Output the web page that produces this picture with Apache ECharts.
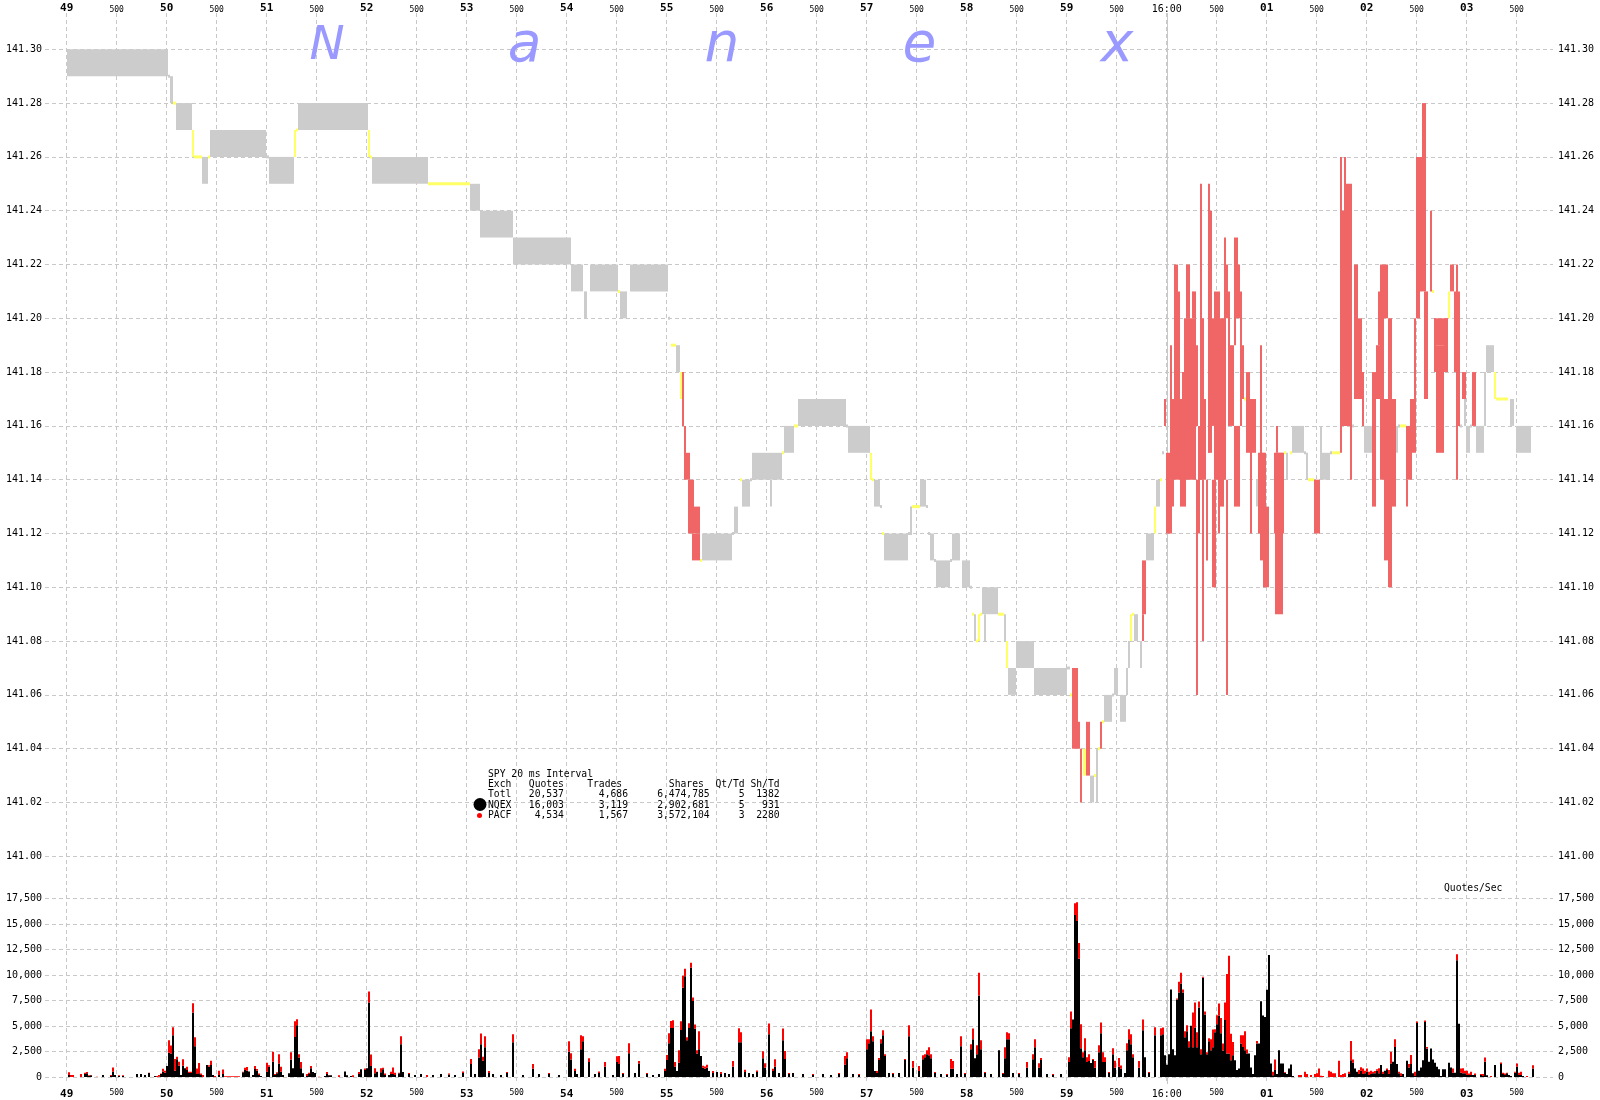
<!DOCTYPE html>
<html><head><meta charset="utf-8">
<script src="https://cdn.jsdelivr.net/npm/echarts@6/dist/echarts.min.js"></script>
<style>html,body{margin:0;padding:0;background:#fff}#c{width:1600px;height:1100px}</style>
</head><body><div id="c"></div>
<script>
// time in seconds after 15:59:00 (60 = 16:00:00)
const tickLabels = ['49','500','50','500','51','500','52','500','53','500','54','500','55','500','56','500','57','500','58','500','59','500','16:00','500','01','500','02','500','03','500'];
const closeTime = 60;

// quote segments: [tStart, tEnd, low, high]
const grayQuotes = [
[49.00,50.01,141.29,141.30],[50.01,50.03,141.29,141.29],[50.03,50.06,141.28,141.29],[50.09,50.25,141.27,141.28],
[50.35,50.41,141.25,141.26],[50.43,50.99,141.26,141.27],[50.99,51.02,141.26,141.26],[51.02,51.27,141.25,141.26],
[51.31,52.01,141.27,141.28],[52.05,52.61,141.25,141.26],[53.03,53.13,141.24,141.25],[53.13,53.46,141.23,141.24],
[53.46,54.04,141.22,141.23],[54.04,54.16,141.21,141.22],[54.17,54.20,141.20,141.21],[54.23,54.51,141.21,141.22],
[54.53,54.60,141.20,141.21],[54.63,55.01,141.21,141.22],[55.01,55.03,141.20,141.20],[55.09,55.13,141.18,141.19],
[55.35,55.65,141.11,141.12],[55.65,55.67,141.12,141.12],[55.67,55.71,141.12,141.13],[55.75,55.83,141.13,141.14],
[55.83,55.85,141.14,141.14],[55.85,56.15,141.14,141.15],[56.03,56.05,141.13,141.14],[56.17,56.27,141.15,141.16],
[56.31,56.79,141.16,141.17],[56.79,56.81,141.16,141.16],[56.81,57.03,141.15,141.16],[57.07,57.13,141.13,141.14],
[57.13,57.15,141.13,141.13],[57.17,57.41,141.11,141.12],[57.41,57.45,141.12,141.12],[57.43,57.45,141.12,141.13],
[57.53,57.59,141.13,141.14],[57.59,57.61,141.13,141.13],[57.61,57.63,141.12,141.12],[57.63,57.67,141.11,141.12],
[57.67,57.69,141.11,141.11],[57.69,57.83,141.10,141.11],[57.83,57.85,141.11,141.11],[57.85,57.93,141.11,141.12],
[57.95,58.03,141.10,141.11],[58.03,58.05,141.10,141.10],[58.07,58.09,141.08,141.09],[58.15,58.31,141.09,141.10],
[58.17,58.19,141.08,141.09],[58.37,58.39,141.08,141.09],[58.41,58.49,141.06,141.07],[58.49,58.67,141.07,141.08],
[58.67,59.00,141.06,141.07],[59.00,59.03,141.07,141.07],[59.23,59.27,141.02,141.03],[59.29,59.31,141.02,141.04],
[59.37,59.45,141.05,141.06],[59.45,59.47,141.06,141.06],[59.47,59.51,141.06,141.07],[59.53,59.59,141.05,141.06],
[59.59,59.61,141.06,141.07],[59.61,59.63,141.07,141.08],[59.67,59.71,141.08,141.09],[59.73,59.75,141.07,141.08],
[59.79,59.87,141.11,141.12],[59.89,59.93,141.13,141.14],[59.95,59.97,141.15,141.15],[60.89,60.91,141.13,141.14],
[61.19,61.21,141.14,141.15],[61.25,61.37,141.15,141.16],[61.37,61.39,141.15,141.15],[61.39,61.41,141.14,141.15],
[61.53,61.55,141.14,141.16],[61.53,61.63,141.14,141.15],[61.63,61.65,141.15,141.15],[61.85,61.87,141.16,141.16],
[61.97,62.05,141.15,141.16],[62.29,62.31,141.15,141.16],[62.31,62.33,141.16,141.16],[62.93,62.95,141.16,141.16],
[62.97,62.99,141.16,141.17],[62.99,63.03,141.15,141.16],[63.03,63.05,141.16,141.16],[63.09,63.17,141.15,141.16],
[63.17,63.19,141.16,141.18],[63.19,63.27,141.18,141.19],[63.43,63.47,141.16,141.17],[63.49,63.64,141.15,141.16]
];
const yellowQuotes = [
[50.06,50.09,141.28,141.28],[50.25,50.27,141.26,141.27],[50.27,50.35,141.26,141.26],[50.41,50.43,141.26,141.26],
[51.27,51.29,141.26,141.27],[51.29,51.31,141.27,141.27],[52.01,52.03,141.26,141.27],[52.03,52.05,141.26,141.26],
[52.61,53.03,141.25,141.25],[54.51,54.53,141.21,141.21],[55.04,55.09,141.19,141.19],[55.13,55.15,141.17,141.18],
[55.33,55.35,141.11,141.11],[55.73,55.75,141.14,141.14],[56.15,56.17,141.15,141.15],[56.27,56.31,141.16,141.16],
[57.03,57.05,141.14,141.15],[57.05,57.07,141.14,141.14],[57.15,57.17,141.12,141.12],[57.45,57.53,141.13,141.13],
[58.05,58.07,141.09,141.09],[58.09,58.11,141.08,141.08],[58.11,58.13,141.08,141.09],[58.13,58.15,141.09,141.09],
[58.31,58.37,141.09,141.09],[58.39,58.41,141.07,141.08],[59.03,59.05,141.06,141.06],[59.16,59.19,141.03,141.04],
[59.27,59.29,141.03,141.03],[59.31,59.33,141.04,141.04],[59.35,59.37,141.05,141.05],[59.63,59.65,141.08,141.09],
[59.65,59.67,141.09,141.09],[59.87,59.89,141.12,141.13],[59.93,59.95,141.14,141.14],[60.77,60.79,141.17,141.17],
[61.17,61.19,141.15,141.15],[61.23,61.25,141.15,141.15],[61.41,61.47,141.14,141.14],[61.65,61.73,141.15,141.15],
[62.33,62.39,141.16,141.16],[62.65,62.67,141.21,141.21],[62.81,62.83,141.20,141.21],[63.27,63.29,141.17,141.18],
[63.29,63.41,141.17,141.17]
];
const redQuotes = [
[55.15,55.17,141.16,141.18],[55.17,55.19,141.14,141.16],[55.19,55.23,141.14,141.15],[55.21,55.27,141.12,141.14],
[55.27,55.33,141.12,141.13],[55.25,55.33,141.11,141.12],[59.05,59.11,141.04,141.07],[59.11,59.13,141.04,141.05],
[59.13,59.15,141.02,141.04],[59.19,59.23,141.03,141.05],[59.33,59.35,141.04,141.05],[59.75,59.79,141.09,141.11],
[59.75,59.77,141.08,141.09],[59.97,59.99,141.16,141.17],[59.99,60.03,141.12,141.15],[60.01,60.05,141.12,141.14],
[60.03,60.05,141.14,141.19],[60.03,60.11,141.14,141.17],[60.07,60.11,141.17,141.22],[60.05,60.07,141.13,141.15],
[60.11,60.13,141.14,141.21],[60.13,60.19,141.13,141.17],[60.15,60.17,141.17,141.18],[60.17,60.23,141.14,141.20],
[60.19,60.23,141.20,141.22],[60.23,60.29,141.14,141.20],[60.25,60.29,141.20,141.21],[60.29,60.31,141.16,141.19],
[60.29,60.30,141.06,141.14],[60.31,60.33,141.12,141.16],[60.33,60.35,141.14,141.25],[60.33,60.37,141.14,141.20],
[60.35,60.36,141.08,141.14],[60.37,60.39,141.14,141.17],[60.39,60.40,141.11,141.14],[60.41,60.43,141.15,141.25],
[60.41,60.45,141.15,141.24],[60.45,60.48,141.16,141.20],[60.45,60.49,141.10,141.14],[60.47,60.53,141.14,141.21],
[60.51,60.53,141.12,141.16],[60.53,60.57,141.13,141.20],[60.57,60.59,141.14,141.23],[60.59,60.61,141.20,141.22],
[60.59,60.60,141.06,141.14],[60.61,60.63,141.16,141.21],[60.63,60.67,141.16,141.19],[60.67,60.69,141.19,141.23],
[60.69,60.71,141.20,141.23],[60.71,60.73,141.20,141.22],[60.67,60.73,141.13,141.16],[60.73,60.75,141.16,141.21],
[60.75,60.77,141.17,141.19],[60.79,60.83,141.15,141.18],[60.83,60.85,141.12,141.17],[60.85,60.89,141.15,141.17],
[60.91,60.93,141.12,141.15],[60.93,60.95,141.12,141.19],[60.93,60.98,141.11,141.15],[60.95,60.99,141.12,141.15],
[60.96,61.02,141.10,141.13],[61.07,61.17,141.12,141.15],[61.08,61.16,141.09,141.15],[61.09,61.11,141.15,141.16],
[61.47,61.53,141.12,141.14],[61.73,61.75,141.15,141.26],[61.75,61.77,141.16,141.24],[61.77,61.79,141.16,141.26],
[61.79,61.85,141.16,141.25],[61.83,61.85,141.14,141.16],[61.87,61.91,141.17,141.22],[61.91,61.95,141.17,141.20],
[61.95,61.97,141.16,141.18],[62.05,62.09,141.13,141.18],[62.09,62.13,141.17,141.19],[62.11,62.13,141.19,141.21],
[62.13,62.17,141.14,141.22],[62.17,62.21,141.20,141.22],[62.17,62.21,141.11,141.17],[62.21,62.25,141.10,141.20],
[62.25,62.29,141.13,141.17],[62.39,62.45,141.14,141.16],[62.39,62.41,141.13,141.14],[62.43,62.47,141.15,141.17],
[62.47,62.49,141.15,141.20],[62.49,62.53,141.20,141.24],[62.49,62.55,141.21,141.26],[62.55,62.59,141.21,141.28],
[62.57,62.61,141.17,141.21],[62.63,62.65,141.21,141.24],[62.67,62.81,141.19,141.20],[62.67,62.69,141.18,141.20],
[62.69,62.77,141.15,141.19],[62.77,62.81,141.18,141.20],[62.83,62.87,141.21,141.22],[62.87,62.89,141.18,141.21],
[62.89,62.91,141.14,141.22],[62.91,62.93,141.16,141.21],[62.95,62.99,141.17,141.18],[63.05,63.09,141.16,141.18]
];

// 20 ms bins: [tStart, NQEX quotes/sec, PACF quotes/sec]
const volumeBins = [
[49.01,195,260],[49.03,0,195],[49.05,0,195],[49.13,0,290],[49.17,290,130],[49.19,360,130],[49.21,100,65],[49.23,160,30],[49.29,0,30],[49.35,195,0],[49.43,100,100],[49.45,520,420],[49.47,195,0],[49.51,100,65],[49.55,100,65],[49.69,290,0],[49.73,290,0],[49.77,195,0],[49.81,390,30],[49.87,100,0],[49.89,0,100],[49.91,30,160],[49.93,290,65],[49.95,550,260],[49.97,420,195],[49.99,1070,0],
[50.01,2370,1240],[50.03,2300,800],[50.05,4100,780],[50.07,620,1140],[50.09,1750,230],[50.11,1100,390],[50.13,195,0],[50.15,1100,650],[50.17,850,0],[50.19,680,325],[50.21,400,120],[50.23,400,120],[50.25,6340,910],[50.27,3020,880],[50.29,290,550],[50.31,360,1010],[50.33,195,160],[50.35,0,195],[50.39,1170,0],[50.41,1000,160],[50.43,1170,420],[50.45,195,0],[50.47,0,100],[50.51,195,420],[50.55,290,450],[50.57,0,65],[50.59,0,65],[50.61,0,65],[50.63,0,65],[50.65,0,65],[50.67,0,65],[50.69,0,65],[50.71,0,65],[50.75,460,65],[50.77,680,230],[50.79,620,360],[50.81,550,0],[50.85,195,0],[50.87,780,290],[50.89,620,160],[50.91,195,160],[50.93,100,0],[50.99,520,880],
[51.01,1000,160],[51.05,1500,975],[51.07,195,100],[51.09,360,100],[51.11,1330,900],[51.13,520,490],[51.15,195,0],[51.21,360,0],[51.23,1720,720],[51.25,850,0],[51.27,3930,1530],[51.29,5070,590],[51.31,1920,325],[51.33,850,620],[51.35,360,0],[51.39,100,195],[51.41,290,130],[51.43,850,230],[51.45,490,0],[51.47,390,0],[51.51,0,30],[51.57,100,0],[51.59,290,195],[51.61,160,30],[51.63,160,0],[51.71,0,160],[51.77,550,0],[51.79,160,0],[51.83,100,0],[51.85,0,160],[51.91,290,195],[51.93,750,0],[51.97,680,160],[51.99,850,0],
[52.01,7310,1070],[52.03,1070,1140],[52.07,360,490],[52.09,490,30],[52.13,460,390],[52.15,750,160],[52.17,195,160],[52.21,195,0],[52.23,290,230],[52.25,290,650],[52.27,195,230],[52.31,360,65],[52.33,3220,780],[52.35,500,0],[52.41,300,100],[52.47,200,0],[52.53,300,0],[52.59,0,200],[52.65,200,0],[52.73,300,0],[52.81,250,100],[52.87,200,0],[52.95,400,150],
[53.03,1270,490],[53.07,300,0],[53.11,1920,810],[53.13,3220,1040],[53.15,1590,390],[53.17,2920,1070],[53.21,400,200],[53.25,300,0],[53.33,200,0],[53.39,400,100],[53.45,3410,780],[53.55,200,0],[53.65,800,470],[53.71,300,0],[53.81,300,100],[53.91,200,0],
[54.01,2470,1040],[54.03,1720,620],[54.07,600,200],[54.09,300,0],[54.13,2730,1370],[54.15,3510,490],[54.21,1460,390],[54.27,300,0],[54.31,400,150],[54.37,1000,460],[54.45,200,0],[54.49,1460,585],[54.51,1270,780],[54.55,300,100],[54.61,2340,975],[54.67,400,0],[54.71,1330,230],[54.79,300,100],[54.85,200,0],[54.91,300,0],[54.97,600,200],[54.99,1660,490],
[55.01,3310,980],[55.03,4810,680],[55.05,4810,750],[55.07,1000,460],[55.09,600,0],[55.11,1400,1230],[55.13,4610,850],[55.15,8770,1170],[55.17,9880,750],[55.19,3600,290],[55.21,4810,455],[55.23,10720,490],[55.25,7470,325],[55.27,4740,420],[55.29,2310,325],[55.31,2730,1760],[55.33,2050,0],[55.35,900,200],[55.37,800,240],[55.39,900,300],[55.41,600,0],[55.45,400,200],[55.49,500,0],[55.53,300,200],[55.57,400,0],[55.61,300,0],[55.65,1000,560],[55.71,3410,1370],[55.73,3410,975],[55.77,500,200],[55.81,400,0],[55.85,300,0],[55.89,500,150],[55.95,1850,680],[55.97,900,460],
[56.01,4190,1070],[56.05,600,200],[56.07,1000,750],[56.11,400,0],[56.15,3600,1170],[56.17,1760,780],[56.21,300,100],[56.25,400,0],[56.35,300,0],[56.45,200,100],[56.55,300,0],[56.63,200,0],[56.71,300,100],[56.77,1200,850],[56.79,1850,585],[56.85,300,0],[56.91,200,100],[56.99,2730,975],
[57.01,3310,390],[57.03,4480,2150],[57.05,3510,490],[57.07,600,0],[57.09,400,200],[57.11,1660,195],[57.13,3310,390],[57.15,4100,490],[57.17,2050,195],[57.21,400,0],[57.25,300,100],[57.31,400,0],[57.37,1660,100],[57.41,4000,1070],[57.45,900,660],[57.51,600,470],[57.55,1750,390],[57.57,1950,290],[57.59,2240,390],[57.61,2140,780],[57.63,1850,390],[57.67,400,100],[57.73,300,0],[57.79,200,100],[57.83,800,960],[57.85,800,770],[57.89,300,0],[57.93,3020,975],[57.97,300,100],
[58.03,2730,490],[58.05,3700,1070],[58.07,1850,0],[58.09,2240,880],[58.11,8000,2240],[58.13,2730,880],[58.17,400,100],[58.23,300,0],[58.31,2630,0],[58.35,300,100],[58.37,1850,1070],[58.39,3700,680],[58.41,3700,585],[58.45,400,0],[58.51,300,100],[58.59,900,560],[58.65,1750,490],[58.67,2920,780],[58.71,900,460],[58.73,1660,195],[58.79,300,0],[58.85,200,100],[58.93,300,0],
[59.01,1460,490],[59.03,4780,1660],[59.05,5650,0],[59.07,15890,1170],[59.09,15300,1850],[59.11,11600,1560],[59.13,2830,2340],[59.15,1950,490],[59.17,2630,1170],[59.19,1460,490],[59.21,1560,680],[59.23,1370,0],[59.25,1660,100],[59.27,900,670],[59.31,2440,680],[59.33,4290,1070],[59.35,1460,975],[59.37,1460,490],[59.41,400,100],[59.45,2240,585],[59.47,900,690],[59.51,1000,860],[59.53,800,340],[59.57,400,0],[59.59,2630,680],[59.61,3700,975],[59.63,3220,975],[59.65,1950,290],[59.71,900,660],[59.75,4580,1070],[59.77,1950,0],[59.81,400,100],[59.87,4100,780],[59.93,4100,680],[59.95,4190,680],[59.97,2140,0],[59.99,1200,0],
[60.01,2240,0],[60.03,8580,0],[60.05,2730,0],[60.07,2140,0],[60.09,7600,100],[60.11,8290,1070],[60.13,9170,1070],[60.15,8290,290],[60.17,3900,585],[60.19,4490,585],[60.21,2920,585],[60.23,5040,0],[60.25,2920,3410],[60.27,4870,2440],[60.29,2920,1460],[60.31,6820,585],[60.33,2240,490],[60.35,9750,100],[60.37,6140,290],[60.39,2240,195],[60.41,3510,290],[60.43,2630,1070],[60.45,2920,1750],[60.47,4390,290],[60.49,5170,880],[60.51,6040,1170],
[60.53,4300,1500],[60.55,2600,700],[60.57,5600,1700],[60.59,2300,7800],[60.61,2300,9600],[60.63,1650,2600],[60.65,2140,1300],[60.67,1650,0],[60.69,680,0],[60.71,840,0],[60.73,3280,820],[60.75,2950,1150],[60.77,2630,1850],[60.79,2300,400],[60.81,2300,0],[60.83,940,0],[60.85,290,0],[60.87,2140,0],[60.89,3280,260],[60.91,3280,0],[60.93,7440,0],[60.95,6040,0],[60.97,5880,0],[60.99,8570,0],
[61.01,11980,0],[61.03,1330,0],[61.05,160,360],[61.07,680,1040],[61.09,290,0],[61.11,2630,0],[61.13,1330,0],[61.15,1330,0],[61.17,420,65],[61.19,290,0],[61.21,840,0],[61.23,1230,0],[61.25,100,0],[61.31,0,195],[61.33,0,195],[61.37,0,520],[61.39,0,290],[61.43,0,195],[61.47,0,290],[61.49,0,360],[61.51,0,840],[61.53,0,130],[61.55,0,100],[61.61,0,620],[61.63,0,520],[61.65,0,360],[61.67,0,360],[61.71,0,1590],[61.73,0,195],[61.75,0,290],[61.77,0,360],[61.81,290,230],[61.83,1650,1890],[61.85,1400,325],[61.87,840,0],[61.89,520,0],[61.91,290,390],[61.93,620,325],[61.95,290,550],[61.97,360,260],[61.99,520,325],
[62.01,195,325],[62.03,290,325],[62.05,360,160],[62.07,360,230],[62.09,620,130],[62.11,360,490],[62.13,1170,0],[62.15,290,230],[62.17,620,0],[62.19,680,160],[62.21,290,390],[62.23,1330,1140],[62.25,1490,0],[62.27,2950,750],[62.29,1270,0],[62.31,360,160],[62.33,100,260],[62.35,290,0],[62.39,1590,0],[62.41,940,325],[62.43,1270,880],[62.45,360,0],[62.47,100,420],[62.49,5290,160],[62.51,620,0],[62.53,940,0],[62.55,1650,0],[62.57,5390,160],[62.59,2790,160],[62.61,1490,0],[62.63,2790,0],[62.65,1720,0],[62.67,1400,0],[62.69,1000,0],[62.71,750,0],[62.73,100,0],[62.75,750,0],[62.77,750,0],[62.81,1400,0],[62.83,940,0],[62.85,420,420],[62.87,420,0],[62.89,11460,590],[62.91,5230,0],[62.93,420,420],[62.95,360,490],[62.97,360,260],[62.99,195,420],
[63.01,195,160],[63.03,195,325],[63.05,195,0],[63.07,195,160],[63.13,195,100],[63.15,100,195],[63.17,1490,420],[63.19,160,0],[63.23,0,100],[63.27,1170,0],[63.33,1270,160],[63.35,290,130],[63.37,195,160],[63.39,360,65],[63.41,195,0],[63.43,100,0],[63.47,420,100],[63.49,1000,325],[63.51,195,230],[63.53,195,325],[63.55,100,0],[63.59,0,100],[63.65,840,325]
];
const binWidth = 0.02;

// summary table
const tableTitle = 'SPY 20 ms Interval';
const exchNames = ['Totl','NQEX','PACF'];
const exchQuotes = [20537,16003,4534];
const exchTrades = [4686,3119,1567];
const exchShares = [6474785,2902681,3572104];
const exchQtTd = [5,5,3];
const exchShTd = [1382,931,2280];
const watermark = ['N','a','n','e','x'];

const MONO = '"DejaVu Sans Mono", monospace';
const GRID_COLOR = '#c8c8c8';
const dash = {color: GRID_COLOR, width: 1, type: [4, 3]};

const fmt = n => n.toLocaleString('en-US');
const tableLines = [tableTitle,
  'Exch' + 'Quotes'.padStart(9) + 'Trades'.padStart(10) + 'Shares'.padStart(14) + 'Qt/Td'.padStart(7) + 'Sh/Td'.padStart(6)];
exchNames.forEach((n, i) => {
  tableLines.push(n.padEnd(4) + fmt(exchQuotes[i]).padStart(9) + fmt(exchTrades[i]).padStart(11) +
    fmt(exchShares[i]).padStart(14) + String(exchQtTd[i]).padStart(6) + String(exchShTd[i]).padStart(6));
});

function rectRenderer(color) {
  return function (params, api) {
    const t0 = api.value(0), t1 = api.value(1), lo = api.value(2), hi = api.value(3);
    const p0 = api.coord([t0, hi]), p1 = api.coord([t1, lo]);
    const x = Math.round(p0[0]);
    const w = Math.max(Math.round(p1[0]) - x, 2);
    let y = p0[1], h = p1[1] - p0[1];
    if (h < 3) { const c = (p0[1] + p1[1]) / 2; y = c - 1.5; h = 3; }
    return {type: 'rect', shape: {x: x, y: y, width: w, height: h}, style: {fill: color}};
  };
}
function volRenderer(params, api) {
  const t = api.value(0), b = api.value(1), r = api.value(2);
  const base = api.coord([t, 0]);
  const x = Math.round(base[0]);
  const w = Math.max(Math.round(api.coord([t + binWidth, 0])[0]) - x, 2);
  const yb = api.coord([t, b])[1];
  const yr = api.coord([t, b + r])[1];
  return {type: 'group', children: [
    {type: 'rect', shape: {x: x, y: yb, width: w, height: base[1] - yb}, style: {fill: '#000000'}},
    {type: 'rect', shape: {x: x, y: yr, width: w, height: yb - yr}, style: {fill: '#ff0000'}}
  ]};
}
function timeLabel(v) {
  const s = tickLabels[Math.round((v - 49) * 2)];
  if (s == null) return '';
  if (s === '500') return '{h|500}';
  if (s.indexOf(':') >= 0) return '{t|' + s + '}';
  return '{s|' + s + '}';
}
const timeRich = {
  s: {fontFamily: MONO, fontWeight: 'bold', fontSize: 11, color: '#000'},
  h: {fontFamily: MONO, fontSize: 8, color: '#000'},
  t: {fontFamily: MONO, fontSize: 10, color: '#000'}
};

const X0 = 48.783, X1 = 63.863;
const chart = echarts.init(document.getElementById('c'), null, {renderer: 'canvas'});
const option = {
  animation: false,
  backgroundColor: '#ffffff',
  textStyle: {fontFamily: MONO},
  grid: [
    {left: 45, right: 47, top: 49.3, bottom: 243.7},
    {left: 45, right: 47, top: 898.7, bottom: 23},
    {left: 66.7, right: 83.3, top: 13, bottom: 15}
  ],
  xAxis: [
    {gridIndex: 0, type: 'value', min: X0, max: X1, show: false},
    {gridIndex: 1, type: 'value', min: X0, max: X1, show: false},
    {gridIndex: 2, type: 'value', position: 'top', min: 49, max: 63.5, interval: 0.5,
      axisLine: {show: false}, axisTick: {show: false}, splitLine: {show: true, lineStyle: dash},
      axisLabel: {interval: 0, margin: -1, formatter: timeLabel, rich: timeRich, showMinLabel: true, showMaxLabel: true}},
    {gridIndex: 2, type: 'value', position: 'bottom', min: 49, max: 63.5, interval: 0.5,
      axisLine: {show: false}, axisTick: {show: false}, splitLine: {show: false},
      axisLabel: {interval: 0, margin: 5, formatter: timeLabel, rich: timeRich, showMinLabel: true, showMaxLabel: true}}
  ],
  yAxis: [
    {gridIndex: 0, type: 'value', position: 'left', min: 141.00, max: 141.30, interval: 0.02,
      axisLine: {show: false}, axisTick: {show: false}, splitLine: {show: true, lineStyle: dash},
      axisLabel: {margin: 3, fontFamily: MONO, fontSize: 10, color: '#000', formatter: v => v.toFixed(2)}},
    {gridIndex: 0, type: 'value', position: 'right', min: 141.00, max: 141.30, interval: 0.02,
      axisLine: {show: false}, axisTick: {show: false}, splitLine: {show: false},
      axisLabel: {margin: 5, fontFamily: MONO, fontSize: 10, color: '#000', formatter: v => v.toFixed(2)}},
    {gridIndex: 1, type: 'value', position: 'left', min: 0, max: 17500, interval: 2500,
      axisLine: {show: false}, axisTick: {show: false}, splitLine: {show: true, lineStyle: dash},
      axisLabel: {margin: 3, fontFamily: MONO, fontSize: 10, color: '#000', formatter: v => fmt(v)}},
    {gridIndex: 1, type: 'value', position: 'right', min: 0, max: 17500, interval: 2500,
      axisLine: {show: false}, axisTick: {show: false}, splitLine: {show: false},
      axisLabel: {margin: 5, fontFamily: MONO, fontSize: 10, color: '#000', formatter: v => fmt(v)}},
    {gridIndex: 2, type: 'value', min: 0, max: 1, show: false}
  ],
  series: [
    {type: 'custom', name: 'close', xAxisIndex: 2, yAxisIndex: 4, z: 1, silent: true,
      data: [[closeTime, 0]],
      renderItem: function (params, api) {
        const x = Math.round(api.coord([api.value(0), 0])[0]) + 0.5;
        const cs = params.coordSys;
        return {type: 'line', shape: {x1: x, y1: cs.y, x2: x, y2: cs.y + cs.height},
          style: {stroke: GRID_COLOR, lineWidth: 1}};
      }},
    {type: 'custom', name: 'spread', xAxisIndex: 0, yAxisIndex: 0, z: 2, silent: true,
      encode: {x: [0, 1], y: [2, 3]}, data: grayQuotes, renderItem: rectRenderer('#cccccc')},
    {type: 'custom', name: 'crossed', xAxisIndex: 0, yAxisIndex: 0, z: 3, silent: true,
      encode: {x: [0, 1], y: [2, 3]}, data: redQuotes, renderItem: rectRenderer('#f06666')},
    {type: 'custom', name: 'locked', xAxisIndex: 0, yAxisIndex: 0, z: 4, silent: true,
      encode: {x: [0, 1], y: [2, 3]}, data: yellowQuotes, renderItem: rectRenderer('#ffff66')},
    {type: 'custom', name: 'quotes', xAxisIndex: 1, yAxisIndex: 2, z: 2, silent: true,
      encode: {x: 0, y: 1}, data: volumeBins, renderItem: volRenderer}
  ],
  graphic: [
    ...watermark.map((ch, i) => ({type: 'text', z: 10, silent: true,
      x: 327 + i * 197.5, y: 47,
      style: {text: ch, fill: '#9999ff', align: 'center', verticalAlign: 'middle',
        font: 'italic ' + (i === 0 ? 47 : 55) + 'px "DejaVu Sans"'}})),
    {type: 'text', z: 10, silent: true, x: 488, y: 769,
      style: {text: tableLines.join('\n'), fill: '#000', font: '9.7px ' + MONO, lineHeight: 10.3, verticalAlign: 'top'}},
    {type: 'circle', z: 10, silent: true, shape: {cx: 480, cy: 804.5, r: 6.5}, style: {fill: '#000'}},
    {type: 'circle', z: 10, silent: true, shape: {cx: 479.5, cy: 815.5, r: 2.5}, style: {fill: '#ff0000'}},
    {type: 'text', z: 10, silent: true, x: 1444, y: 888,
      style: {text: 'Quotes/Sec', fill: '#000', font: '9.7px ' + MONO, verticalAlign: 'middle'}}
  ]
};
chart.setOption(option);
</script></body></html>
